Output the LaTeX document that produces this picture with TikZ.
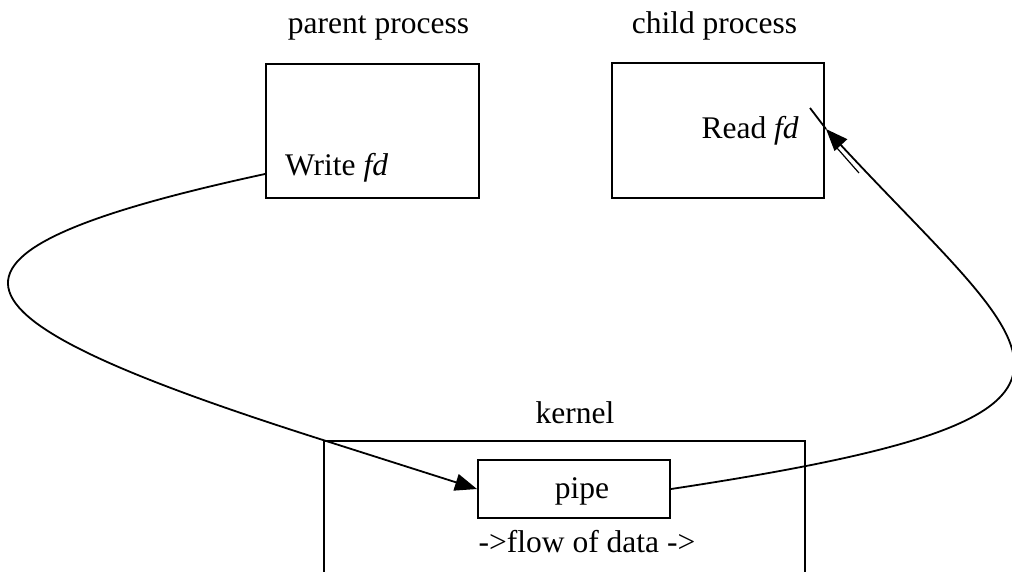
\documentclass[tikz,border=0pt]{standalone}
\usepackage{fontspec}
\setmainfont{Liberation Serif}
\usetikzlibrary{arrows.meta,calc}
\begin{document}
\begin{tikzpicture}[x=1pt,y=-1pt,
  every node/.style={font=\fontsize{31.5}{36}\selectfont, inner sep=0pt},
  box/.style={draw, line width=2pt},
  conn/.style={line width=1.8pt, -{Triangle[length=22pt,width=17pt]}},
  lbl/.style={anchor=base}]
\useasboundingbox (0,0) rectangle (1012,571);
\clip (0,0) rectangle (1012,571);
% boxes
\node[box, minimum width=213pt, minimum height=134pt] (parent) at (372.5,131) {};
\node[box, minimum width=212pt, minimum height=135pt] (child) at (718,130.5) {};
\node[box, minimum width=481pt, minimum height=200pt] (kernel) at (564.5,541) {};
\node[box, minimum width=192pt, minimum height=58pt] (pipe) at (574,489) {};
% labels
\node[lbl] (plbl) at (378.5,33) {parent process};
\node[lbl] (clbl) at (714.5,33) {child process};
\node[lbl] (klbl) at (575,423) {kernel};
\node[anchor=base west] (wfd) at (285,175) {Write \textit{fd}};
\node[anchor=base east] (rfd) at (799,138) {Read \textit{fd}};
\node[lbl] (ptxt) at (582,498) {pipe};
\node[lbl] (flow) at (587,552) {->flow of data ->};
% connectors
\coordinate (wstart) at ([yshift=-43pt]parent.west);
\coordinate (tip) at (826,129);
\coordinate (tail) at (810,108);
\draw[conn] (wstart) .. controls (-110,255) and (-61,318) .. (kernel.north west) -- (pipe.west);
\draw[conn] (pipe.east) .. controls (1160,415) and (1040,360) .. (tip);
\draw[line width=1.8pt] (tip) -- (tail);
\draw[line width=1.2pt] (837,148) -- (859,173);
\end{tikzpicture}
\end{document}
